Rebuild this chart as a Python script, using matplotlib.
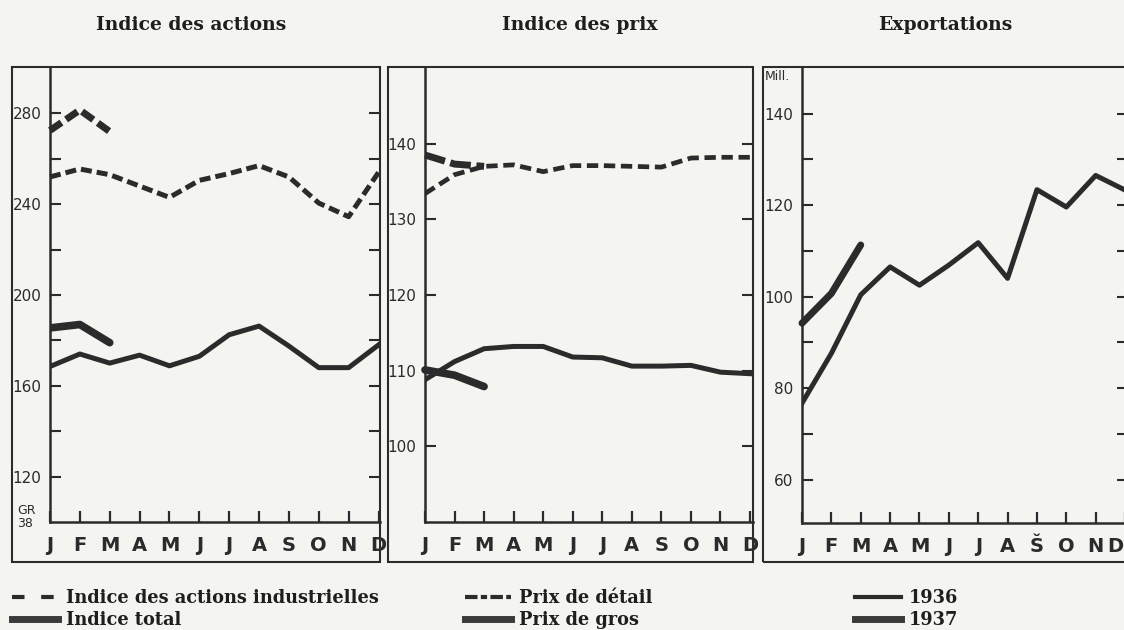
import matplotlib
matplotlib.use('Agg')
import matplotlib.pyplot as plt
from matplotlib.patches import Rectangle
from matplotlib.lines import Line2D
from matplotlib.ticker import FixedLocator
import matplotlib.transforms as mtransforms

W, H = 1124, 630

# ---------------- data ----------------
months_std = ['J', 'F', 'M', 'A', 'M', 'J', 'J', 'A', 'S', 'O', 'N', 'D']
months_exp = ['J', 'F', 'M', 'A', 'M', 'J', 'J', 'A', 'Š', 'O', 'N', 'D']

actions_ind_1936 = [252, 255.5, 253, 248, 243, 250.5, 253.5, 257, 252, 240.5, 234.5, 254]
actions_ind_1937 = [272.5, 281.5, 272]
actions_tot_1936 = [168.5, 174, 170, 173.5, 168.8, 173, 182.5, 186.3, 177.5, 168, 168, 178]
actions_tot_1937 = [185.5, 187, 179]

prix_detail_1936 = [133.4, 135.9, 137, 137.2, 136.3, 137.1, 137.1, 137, 136.9, 138.1, 138.2, 138.2]
prix_detail_1937 = [138.5, 137.3, 137]
prix_gros_1936 = [108.8, 111.2, 112.9, 113.2, 113.2, 111.8, 111.7, 110.6, 110.6, 110.7, 109.8, 109.6]
prix_gros_1937 = [110.1, 109.4, 107.9]

exports_1936 = [76.7, 87.6, 100.4, 106.5, 102.5, 106.9, 111.8, 104, 123.4, 119.6, 126.5, 123.3]
exports_1937 = [94.2, 100.7, 111.3]

titles = ['Indice des actions', 'Indice des prix', 'Exportations']
leg1 = ['Indice des actions industrielles', 'Indice total']
leg2 = ['Prix de détail', 'Prix de gros']
leg3 = ['1936', '1937']

INK = '#2b2b2b'
BG = '#f4f4f1'


def rect(l, t, r, b):
    return [l / W, 1 - b / H, (r - l) / W, (b - t) / H]


fig = plt.figure(figsize=(W / 100, H / 100), dpi=100, facecolor=BG)

panels = [
    dict(ax=(50, 68, 380, 522), frame=(12, 67, 380, 562), xmax=11.05, ylim=(100, 300),
         major=[120, 160, 200, 240, 280], minor=[140, 180, 220, 260], months=months_std),
    dict(ax=(425, 68, 753, 522), frame=(388, 67, 753, 562), xmax=11.1, ylim=(90, 150),
         major=[100, 110, 120, 130, 140], minor=[], months=months_std),
    dict(ax=(802, 68, 1128, 523), frame=(763, 67, 1130, 562), xmax=11.1, ylim=(50.5, 150),
         major=[60, 80, 100, 120, 140], minor=[70, 90, 110, 130], months=months_exp),
]

axes = []
for p in panels:
    ax = fig.add_axes(rect(*p['ax']))
    ax.set_facecolor('none')
    ax.set_xlim(0, p['xmax'])
    ax.set_ylim(*p['ylim'])
    for s in ['top', 'right']:
        ax.spines[s].set_visible(False)
    for s in ['left', 'bottom']:
        ax.spines[s].set_linewidth(1.8)
        ax.spines[s].set_color(INK)
    ax.set_xticks(range(12))
    ax.set_xticklabels(p['months'], fontsize=14, fontweight='bold', color=INK,
                       family='DejaVu Sans')
    ax.yaxis.set_major_locator(FixedLocator(p['major']))
    ax.yaxis.set_minor_locator(FixedLocator(p['minor']))
    ax.set_yticklabels([str(v) for v in p['major']], fontsize=11, color=INK)
    ax.tick_params(axis='x', direction='in', length=8, width=1.6, pad=10, colors=INK,
                   top=False)
    ax.tick_params(axis='y', which='both', direction='in', length=8, width=1.5, pad=6,
                   colors=INK, left=True, right=True)
    fr = Rectangle((p['frame'][0] / W, 1 - p['frame'][3] / H),
                   (p['frame'][2] - p['frame'][0]) / W, (p['frame'][3] - p['frame'][1]) / H,
                   transform=fig.transFigure, fill=False, lw=1.5, ec=INK)
    fig.add_artist(fr)
    axes.append(ax)

ax1, ax2, ax3 = axes
x12 = list(range(12))
x3 = [0, 1, 2]

# keep the last month label of the cut-off third panel inside the picture
lastlab = ax3.get_xticklabels()[-1]
lastlab.set_horizontalalignment('right')
lastlab.set_transform(lastlab.get_transform() +
                      mtransforms.ScaledTranslation(-2 / 100, 0, fig.dpi_scale_trans))

# Panel 1
ax1.plot(x12, actions_ind_1936, color=INK, lw=3.6, dashes=(2.2, 1.0), clip_on=False)
ax1.plot(x3, actions_ind_1937, color=INK, lw=5.0, dashes=(2.0, 0.8), clip_on=False)
ax1.plot(x12, actions_tot_1936, color=INK, lw=3.6)
ax1.plot(x3, actions_tot_1937, color=INK, lw=5.5, solid_capstyle='round')

# Panel 2
ax2.plot(x12, prix_detail_1936, color=INK, lw=3.4, dashes=(2.4, 1.2))
ax2.plot(x3, prix_detail_1937, color=INK, lw=5.0, dashes=(3.0, 0.8), clip_on=False)
ax2.plot(x12, prix_gros_1936, color=INK, lw=3.6)
ax2.plot(x3, prix_gros_1937, color=INK, lw=5.5, solid_capstyle='round', clip_on=False)

# Panel 3
ax3.plot(x12, exports_1936, color=INK, lw=3.6)
ax3.plot(x3, exports_1937, color=INK, lw=5.0, solid_capstyle='round', clip_on=False)

# Extra small labels
fig.text(17 / W, 1 - 517 / H, 'GR\n38', fontsize=9, color=INK, linespacing=0.95, va='center')
fig.text(765 / W, 1 - 77 / H, 'Mill.', fontsize=9, color=INK, va='center')

# Titles
for t, xc in zip(titles, [191, 580, 945]):
    fig.text(xc / W, 1 - 25 / H, t, ha='center', va='center', fontsize=13.5,
             fontweight='bold', family='DejaVu Serif', color='#1e1e1e')

# Legends
leg_font = dict(family='DejaVu Serif', size=12.8, weight='bold')
h_ind = Line2D([], [], color=INK, lw=3.0, dashes=(3.0, 4.0))
h_tot = Line2D([], [], color='#3a3a3a', lw=5.0)
h_det = Line2D([], [], color=INK, lw=3.0, dashes=(3.0, 0.8, 1.5, 0.8))
h_gros = Line2D([], [], color='#3a3a3a', lw=5.0)
h_36 = Line2D([], [], color=INK, lw=3.0)
h_37 = Line2D([], [], color='#3a3a3a', lw=5.0)

for handles, labels, x0 in [((h_ind, h_tot), leg1, 12), ((h_det, h_gros), leg2, 465),
                            ((h_36, h_37), leg3, 855)]:
    fig.legend(handles, labels, loc='upper left', bbox_to_anchor=(x0 / W, 1 - 589 / H),
               frameon=False, prop=leg_font, handlelength=2.6, handletextpad=0.45,
               labelspacing=0.22, borderpad=0, borderaxespad=0, labelcolor='#1e1e1e')

fig.savefig('out.png', dpi=100, facecolor=BG)
